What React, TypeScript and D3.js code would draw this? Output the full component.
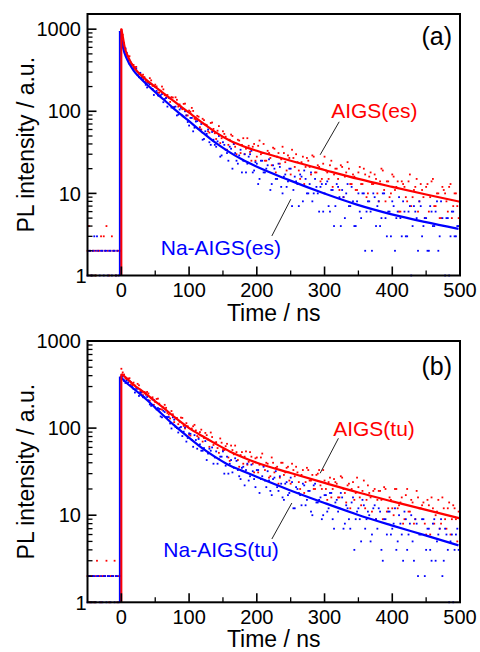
import React from 'react';
import * as d3 from 'd3';

const W = 480;
const H = 652;
const LEFT = 87.5;
const RIGHT = 460;
const X_MIN = -50;
const X_MAX = 500;
const FONT = "'Liberation Sans', Arial, Helvetica, sans-serif";
const RED = '#ff0000';
const BLUE = '#0000ff';

// time grid of the decay data (ns): even set t = 0,4,8..., odd set t = 2,6,10...
const dataStep = 4;
const oddOffset = 2;
// background (before excitation) grid
const bgStart = -50;
const bgStep = 2;

// fitted curves, knot times (ns)
const fitTimes = [0, 2, 5, 10, 20, 30, 40, 50, 60, 70, 80, 90, 100, 120, 140, 160, 180, 200, 250, 300, 350, 400, 450, 500];
const fitRedA = [1000, 820, 600, 460, 330, 270, 230, 198, 171, 148, 128, 111, 96, 72, 55, 44, 37.5, 33, 25, 19.3, 15, 12, 9.7, 7.9];
const fitBlueA = [950, 800, 580, 440, 315, 255, 212, 178, 150, 127, 107, 91.5, 78.5, 57, 42, 32.5, 26, 21.5, 14.5, 10.1, 7.3, 5.6, 4.5, 3.7];
const fitRedB = [420, 408, 390, 360, 305, 270, 235, 203, 176, 152, 131, 114, 100, 80.5, 65.5, 54, 46, 40, 30.5, 23.5, 18.2, 14.4, 11.5, 9.2];
const fitBlueB = [390, 378, 360, 330, 285, 245, 210, 178, 150, 127, 108, 93, 80, 60, 47, 38, 32.5, 28, 19.5, 14, 10.2, 7.7, 5.9, 4.5];

// measured counts, t = 0, 4, 8, ... 500 ns
const dataRedA = [
  1000, 678, 484, 468, 371, 346, 277, 284, 279, 234,
  201, 238, 203, 201, 168, 200, 157, 158, 130, 147,
  148, 114, 114, 123, 89, 102, 110, 81, 88, 64,
  81, 69, 57, 72, 61, 46, 66, 47, 53, 34,
  45, 50, 37, 45, 31, 47, 35, 38, 25, 40,
  28, 44, 31, 25, 33, 27, 36, 18, 31, 26,
  31, 19, 27, 34, 21, 24, 15, 28, 21, 25,
  17, 28, 18, 21, 15, 28, 18, 22, 12, 20,
  15, 22, 9, 18, 20, 13, 16, 11, 21, 13,
  17, 10, 18, 13, 15, 8, 20, 11, 14, 9,
  17, 11, 14, 6, 13, 9, 14, 7, 11, 15,
  8, 11, 5, 13, 9, 15, 7, 10, 5, 11,
  8, 12, 5, 10, 7, 12,
];
// measured counts, t = 2, 6, 10, ... 498 ns
const dataRedAOdd = [
  854, 570, 466, 372, 367, 347, 290, 252, 261, 225,
  253, 204, 211, 169, 178, 185, 147, 146, 149, 113,
  138, 121, 106, 124, 89, 99, 101, 79, 86, 60,
  78, 68, 55, 73, 54, 58, 41, 57, 49, 39,
  52, 40, 30, 44, 39, 30, 47, 32, 37, 25,
  38, 30, 40, 25, 31, 22, 35, 28, 23, 37,
  24, 29, 17, 27, 30, 19, 24, 13, 27, 21,
  29, 18, 22, 14, 23, 19, 15, 25, 17, 20,
  11, 21, 16, 24, 13, 17, 11, 18, 13, 20,
  9, 16, 13, 17, 10, 14, 19, 8, 14, 10,
  16, 12, 6, 14, 12, 8, 17, 9, 12, 6,
  13, 9, 12, 6, 14, 7, 10, 5, 12, 10,
  6, 13, 7, 10, 5,
];
const dataBlueA = [
  950, 635, 515, 381, 364, 331, 275, 294, 244, 210,
  221, 216, 158, 177, 153, 162, 141, 114, 144, 111,
  114, 91, 110, 86, 89, 67, 83, 63, 76, 60,
  45, 57, 60, 39, 45, 37, 50, 29, 39, 31,
  37, 20, 31, 23, 34, 25, 18, 28, 33, 19,
  23, 15, 25, 18, 22, 11, 22, 15, 23, 12,
  16, 12, 20, 7, 16, 13, 17, 8, 15, 10,
  18, 10, 12, 6, 13, 10, 14, 6, 11, 7,
  12, 4, 9, 10, 7, 12, 4, 8, 6, 10,
  2, 8, 6, 10, 4, 8, 5, 10, 3, 6,
  8, 2, 6, 5, 8, 3, 6, 1, 7, 5,
  8, 3, 5, 2, 7, 4, 6, 2, 8, 4,
  5, 1, 6, 3, 4, 3,
];
const dataBlueAOdd = [
  786, 586, 420, 393, 333, 330, 260, 261, 254, 195,
  214, 187, 198, 156, 157, 129, 145, 146, 111, 111,
  89, 105, 89, 100, 74, 83, 57, 75, 61, 70,
  46, 53, 42, 56, 39, 43, 28, 42, 34, 25,
  35, 40, 25, 29, 18, 30, 23, 30, 18, 24,
  13, 25, 18, 20, 26, 13, 20, 15, 21, 10,
  17, 14, 20, 11, 14, 7, 16, 19, 10, 13,
  8, 15, 10, 12, 6, 13, 7, 11, 4, 13,
  9, 11, 5, 13, 7, 8, 4, 10, 5, 10,
  6, 8, 2, 9, 7, 4, 10, 5, 6, 3,
  7, 5, 9, 3, 6, 3, 7, 4, 6, 2,
  7, 4, 5, 2, 6, 4, 8, 3, 5, 1,
  5, 3, 6, 3, 4,
];
const dataRedB = [
  480, 412, 366, 374, 306, 308, 322, 265, 239, 256,
  250, 220, 185, 216, 191, 163, 185, 149, 129, 144,
  129, 111, 132, 106, 114, 84, 99, 109, 81, 90,
  70, 88, 74, 89, 64, 69, 52, 68, 56, 66,
  42, 56, 63, 43, 49, 39, 54, 41, 47, 31,
  46, 38, 51, 33, 39, 28, 40, 35, 23, 40,
  29, 35, 25, 39, 28, 31, 20, 33, 24, 33,
  25, 20, 29, 33, 20, 25, 15, 27, 20, 24,
  16, 28, 20, 14, 23, 20, 15, 27, 16, 19,
  12, 22, 16, 19, 9, 19, 15, 21, 11, 16,
  12, 20, 12, 14, 8, 17, 11, 15, 8, 19,
  12, 13, 8, 15, 6, 12, 10, 15, 8, 12,
  7, 14, 9, 12, 5, 10,
];
const dataRedBOdd = [
  436, 370, 370, 315, 333, 294, 310, 255, 260, 260,
  206, 226, 199, 218, 165, 173, 171, 143, 157, 117,
  131, 118, 131, 99, 105, 82, 105, 94, 78, 96,
  77, 83, 61, 79, 68, 59, 76, 56, 62, 46,
  63, 50, 53, 36, 53, 47, 38, 53, 39, 45,
  31, 46, 37, 40, 27, 46, 31, 36, 27, 40,
  31, 36, 23, 33, 36, 24, 29, 18, 35, 25,
  29, 20, 30, 22, 33, 20, 24, 16, 26, 23,
  16, 27, 18, 22, 12, 24, 18, 21, 13, 25,
  15, 18, 11, 20, 15, 19, 9, 20, 12, 15,
  10, 20, 13, 16, 9, 20, 11, 14, 9, 16,
  12, 14, 6, 13, 16, 8, 11, 7, 16, 9,
  12, 6, 13, 9, 11,
];
const dataBlueB = [
  400, 347, 353, 347, 295, 256, 283, 256, 226, 242,
  209, 180, 211, 164, 166, 133, 153, 134, 113, 133,
  103, 89, 103, 91, 70, 87, 73, 83, 58, 65,
  55, 71, 51, 55, 39, 54, 44, 47, 30, 47,
  39, 31, 45, 33, 26, 36, 33, 25, 38, 26,
  33, 18, 28, 25, 32, 19, 26, 32, 19, 23,
  15, 24, 18, 24, 12, 20, 17, 23, 13, 19,
  11, 22, 14, 15, 9, 17, 11, 18, 9, 14,
  11, 18, 7, 13, 9, 14, 4, 11, 9, 15,
  7, 11, 5, 12, 9, 12, 4, 9, 6, 11,
  7, 12, 5, 8, 3, 9, 6, 10, 3, 8,
  6, 9, 2, 7, 4, 8, 3, 6, 9, 3,
  6, 1, 6, 4, 7, 3,
];
const dataBlueBOdd = [
  390, 330, 335, 337, 281, 283, 234, 261, 227, 228,
  187, 213, 173, 170, 136, 158, 134, 134, 99, 125,
  100, 101, 81, 102, 77, 86, 61, 73, 75, 55,
  59, 43, 58, 60, 46, 39, 47, 54, 37, 30,
  43, 35, 42, 28, 35, 22, 39, 28, 32, 21,
  33, 26, 36, 21, 25, 17, 27, 21, 28, 16,
  23, 17, 27, 12, 21, 18, 13, 22, 15, 19,
  10, 23, 14, 16, 10, 17, 12, 18, 7, 15,
  12, 16, 8, 12, 7, 16, 9, 12, 5, 13,
  9, 10, 6, 13, 7, 11, 3, 9, 11, 6,
  8, 4, 10, 6, 11, 4, 8, 5, 9, 2,
  6, 9, 4, 7, 3, 9, 5, 7, 2, 7,
  4, 5, 1, 6, 4,
];

// background counts, t = -50, -48, ... -2 ns
const bgRedA = [2, 4, 2, 1, 2, 2, 1, 2, 2, 2, 3, 2, 3, 2, 4, 2, 1, 2, 3, 2, 2, 1, 2, 2, 2];
const bgBlueA = [1, 2, 2, 1, 2, 3, 2, 3, 2, 1, 2, 2, 1, 2, 2, 1, 2, 2, 1, 2, 2, 1, 2, 1, 2];
const bgRedB = [2, 2, 1, 2, 2, 1, 2, 3, 2, 2, 1, 2, 2, 2, 3, 2, 1, 2, 2, 2, 3, 2, 1, 2, 2];
const bgBlueB = [1, 2, 2, 1, 2, 2, 1, 2, 2, 1, 2, 1, 2, 2, 1, 2, 2, 1, 2, 2, 1, 2, 2, 1, 2];

// axis ticks
const xMajorTicks = [0, 100, 200, 300, 400, 500];
const xMinorTicks = [50, 150, 250, 350, 450];
const yMajorTicks = [1, 10, 100, 1000];

// annotations (data units: ns, counts)
const labelsA = [
  { text: 'AIGS(es)', t: 309.8, v: 83.3, color: RED },
  { text: 'Na-AIGS(es)', t: 58.2, v: 1.78, color: BLUE },
];
const leadersA = [
  [[321.6, 74.5], [293.5, 29.5]],
  [[222.2, 3.03], [250.2, 8.5]],
];
const labelsB = [
  { text: 'AIGS(tu)', t: 312.7, v: 81.2, color: RED },
  { text: 'Na-AIGS(tu)', t: 62, v: 3.31, color: BLUE },
];
const leadersB = [
  [[320.5, 76.4], [293.5, 30.3]],
  [[222.2, 5.33], [251.7, 13.8]],
];

const riseRed = 0;
const riseBlue = -2.2;

type Cfg = {
  top: number; bottom: number; yMax: number; tag: string; tagV: number;
  dataRed: number[]; dataRedOdd: number[]; dataBlue: number[]; dataBlueOdd: number[];
  bgRed: number[]; bgBlue: number[];
  fitRed: number[]; fitBlue: number[];
  labels: { text: string; t: number; v: number; color: string }[];
  leaders: number[][][];
};

const panels: Cfg[] = [
  { top: 14, bottom: 275.5, yMax: 1530, tag: '(a)', tagV: 647,
    dataRed: dataRedA, dataRedOdd: dataRedAOdd, dataBlue: dataBlueA, dataBlueOdd: dataBlueAOdd,
    bgRed: bgRedA, bgBlue: bgBlueA, fitRed: fitRedA, fitBlue: fitBlueA, labels: labelsA, leaders: leadersA },
  { top: 341, bottom: 602.3, yMax: 1000, tag: '(b)', tagV: 407,
    dataRed: dataRedB, dataRedOdd: dataRedBOdd, dataBlue: dataBlueB, dataBlueOdd: dataBlueBOdd,
    bgRed: bgRedB, bgBlue: bgBlueB, fitRed: fitRedB, fitBlue: fitBlueB, labels: labelsB, leaders: leadersB },
];

function Panel({ cfg }: { cfg: Cfg }) {
  const x = d3.scaleLinear().domain([X_MIN, X_MAX]).range([LEFT, RIGHT]);
  const y = d3.scaleLog().domain([1, cfg.yMax]).range([cfg.bottom, cfg.top]);
  const yAll = y.ticks();
  const yMinor = yAll.filter((v) => !yMajorTicks.includes(v));

  const decay = d3
    .line<[number, number]>()
    .x((d) => x(d[0]))
    .y((d) => y(d[1]))
    .curve(d3.curveMonotoneX);
  const straight = d3.line<[number, number]>().x((d) => x(d[0])).y((d) => y(d[1]));

  const fitPts = (vals: number[], shift: number) =>
    fitTimes.map((t, i) => [t + shift, vals[i]] as [number, number]);

  const dots = (vals: number[], start: number, step: number) =>
    vals.map((v, i) => [start + i * step, v] as [number, number]).filter((d) => d[1] >= 1);

  const redDots = [
    ...dots(cfg.bgRed, bgStart, bgStep),
    ...dots(cfg.dataRed, 0, dataStep),
    ...dots(cfg.dataRedOdd, oddOffset, dataStep),
  ];
  const blueDots = [
    ...dots(cfg.bgBlue, bgStart, bgStep),
    ...dots(cfg.dataBlue, 0, dataStep),
    ...dots(cfg.dataBlueOdd, oddOffset, dataStep),
  ];

  const ds = 1.8;
  const midY = (cfg.top + cfg.bottom) / 2;

  return (
    <g>
      {/* data points */}
      {redDots.map((d, i) => (
        <rect key={'r' + i} x={x(d[0]) - ds / 2} y={y(d[1]) - ds / 2} width={ds} height={ds} fill={RED} />
      ))}
      {blueDots.map((d, i) => (
        <rect key={'b' + i} x={x(d[0]) - ds / 2} y={y(d[1]) - ds / 2} width={ds} height={ds} fill={BLUE} />
      ))}
      {/* fits */}
      <path d={straight([[riseBlue, 1], [riseBlue, cfg.fitBlue[0]]]) || ''} stroke={BLUE} strokeWidth={2} fill="none" />
      <path d={decay(fitPts(cfg.fitBlue, riseBlue)) || ''} stroke={BLUE} strokeWidth={2.2} fill="none" />
      <path d={straight([[riseRed, 1], [riseRed, cfg.fitRed[0]]]) || ''} stroke={RED} strokeWidth={2} fill="none" />
      <path d={decay(fitPts(cfg.fitRed, riseRed)) || ''} stroke={RED} strokeWidth={2.2} fill="none" />

      {/* frame */}
      <rect x={LEFT} y={cfg.top} width={RIGHT - LEFT} height={cfg.bottom - cfg.top} fill="none" stroke="#000" strokeWidth={2} />

      {/* y ticks */}
      {yMajorTicks.filter((v) => v <= cfg.yMax).map((v) => (
        <g key={'ym' + v}>
          <line x1={LEFT} x2={LEFT + 9} y1={y(v)} y2={y(v)} stroke="#000" strokeWidth={1.6} />
          <text
            x={v === 1 ? LEFT - 1 : LEFT - 6.5}
            y={y(v)}
            dy="0.36em"
            textAnchor="end"
            fontSize={20}
            fontFamily={FONT}
          >
            {String(v)}
          </text>
        </g>
      ))}
      {yMinor.map((v) => (
        <line key={'yn' + v} x1={LEFT} x2={LEFT + 5} y1={y(v)} y2={y(v)} stroke="#000" strokeWidth={1.3} />
      ))}

      {/* x ticks */}
      {xMajorTicks.map((t) => (
        <g key={'xm' + t}>
          <line x1={x(t)} x2={x(t)} y1={cfg.bottom} y2={cfg.bottom - 9} stroke="#000" strokeWidth={1.6} />
          <text x={x(t)} y={cfg.bottom + 21.5} textAnchor="middle" fontSize={20} fontFamily={FONT}>
            {String(t)}
          </text>
        </g>
      ))}
      {xMinorTicks.map((t) => (
        <line key={'xn' + t} x1={x(t)} x2={x(t)} y1={cfg.bottom} y2={cfg.bottom - 5} stroke="#000" strokeWidth={1.3} />
      ))}

      {/* axis titles */}
      <text x={(LEFT + RIGHT) / 2} y={cfg.bottom + 45} textAnchor="middle" fontSize={23} fontFamily={FONT}>
        Time / ns
      </text>
      <text
        transform={`translate(34,${midY}) rotate(-90)`}
        textAnchor="middle"
        fontSize={23}
        fontFamily={FONT}
      >
        PL intensity / a.u.
      </text>

      {/* panel tag */}
      <text x={RIGHT - 8} y={y(cfg.tagV)} textAnchor="end" fontSize={25} fontFamily={FONT}>
        {cfg.tag}
      </text>

      {/* annotations */}
      {cfg.leaders.map((l, i) => (
        <line key={'l' + i} x1={x(l[0][0])} y1={y(l[0][1])} x2={x(l[1][0])} y2={y(l[1][1])} stroke="#222" strokeWidth={1} />
      ))}
      {cfg.labels.map((lb, i) => (
        <text key={'t' + i} x={x(lb.t)} y={y(lb.v)} fill={lb.color} fontSize={21} fontFamily={FONT}>
          {lb.text}
        </text>
      ))}
    </g>
  );
}

export default function App() {
  return (
    <svg
      width={W}
      height={H}
      viewBox={`0 0 ${W} ${H}`}
      style={{ position: 'absolute', left: 0, top: 0, background: '#fff', display: 'block' }}
    >
      <rect x={0} y={0} width={W} height={H} fill="#fff" />
      {panels.map((p) => (
        <Panel key={p.tag} cfg={p} />
      ))}
    </svg>
  );
}
